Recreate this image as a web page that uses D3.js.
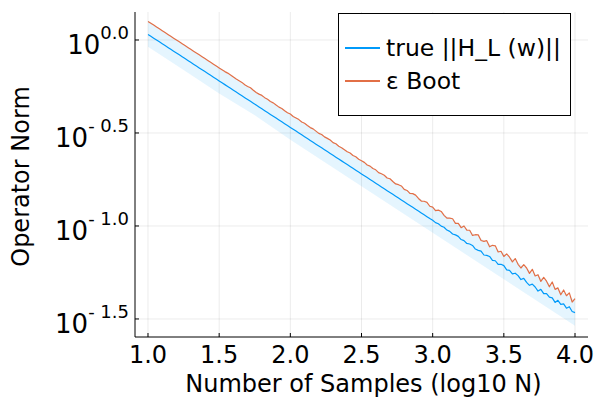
<!DOCTYPE html>
<html>
<head>
<meta charset="utf-8">
<script src="https://cdn.jsdelivr.net/npm/d3@7"></script>
<style>
    body { margin: 0; background: #fff; }
    text { font-family: "DejaVu Sans", sans-serif; fill: #000; }
</style>
</head>
<body>
<div id="SVG_CONTAINER"></div>
<script>
// sample grid, log10 N from 1.0 to 4.0 in steps of 0.02
const sampleX = d3.range(0, 151).map(i => +(1 + i * 0.02).toFixed(2));

// log10 of ||H_L(w)|| (blue line)
const trueNorm = [
    0.030, 0.020, 0.010, 0.000, -0.010, -0.020, -0.030, -0.040, -0.050, -0.060,
    -0.070, -0.080, -0.090, -0.100, -0.110, -0.120, -0.130, -0.140, -0.150, -0.160,
    -0.170, -0.180, -0.190, -0.200, -0.210, -0.220, -0.230, -0.240, -0.250, -0.260,
    -0.270, -0.280, -0.290, -0.300, -0.310, -0.320, -0.330, -0.340, -0.350, -0.360,
    -0.370, -0.380, -0.390, -0.400, -0.410, -0.420, -0.430, -0.440, -0.450, -0.460,
    -0.470, -0.480, -0.490, -0.500, -0.510, -0.520, -0.530, -0.540, -0.550, -0.560,
    -0.570, -0.580, -0.590, -0.600, -0.610, -0.620, -0.630, -0.640, -0.650, -0.660,
    -0.670, -0.680, -0.690, -0.700, -0.710, -0.720, -0.730, -0.740, -0.750, -0.760,
    -0.770, -0.780, -0.790, -0.800, -0.810, -0.820, -0.830, -0.840, -0.850, -0.860,
    -0.870, -0.880, -0.890, -0.900, -0.910, -0.920, -0.930, -0.940, -0.950, -0.960,
    -0.969, -0.982, -0.988, -1.001, -1.007, -1.022, -1.029, -1.043, -1.048, -1.056,
    -1.073, -1.079, -1.094, -1.097, -1.105, -1.124, -1.131, -1.135, -1.156, -1.158,
    -1.164, -1.185, -1.187, -1.207, -1.206, -1.213, -1.236, -1.239, -1.258, -1.254,
    -1.267, -1.288, -1.282, -1.303, -1.319, -1.313, -1.328, -1.350, -1.341, -1.364,
    -1.364, -1.383, -1.387, -1.411, -1.400, -1.422, -1.419, -1.442, -1.434, -1.460,
    -1.466
];

// log10 of the bootstrap estimate (orange line)
const bootNorm = [
    0.100, 0.090, 0.080, 0.070, 0.060, 0.050, 0.040, 0.030, 0.020, 0.010,
    0.000, -0.010, -0.020, -0.030, -0.040, -0.050, -0.060, -0.070, -0.080, -0.090,
    -0.100, -0.110, -0.120, -0.130, -0.140, -0.150, -0.160, -0.170, -0.178, -0.188,
    -0.199, -0.210, -0.219, -0.228, -0.241, -0.250, -0.257, -0.270, -0.282, -0.291,
    -0.298, -0.310, -0.319, -0.331, -0.338, -0.350, -0.361, -0.368, -0.380, -0.391,
    -0.398, -0.411, -0.419, -0.428, -0.441, -0.448, -0.460, -0.471, -0.478, -0.490,
    -0.502, -0.508, -0.521, -0.529, -0.538, -0.552, -0.558, -0.571, -0.579, -0.590,
    -0.601, -0.608, -0.621, -0.628, -0.641, -0.649, -0.658, -0.672, -0.678, -0.691,
    -0.698, -0.713, -0.719, -0.727, -0.742, -0.746, -0.761, -0.774, -0.778, -0.785,
    -0.803, -0.809, -0.825, -0.826, -0.834, -0.852, -0.866, -0.867, -0.873, -0.894,
    -0.899, -0.917, -0.915, -0.922, -0.943, -0.958, -0.958, -0.961, -0.986, -0.986,
    -1.009, -1.000, -1.022, -1.023, -1.051, -1.047, -1.048, -1.078, -1.083, -1.079,
    -1.112, -1.104, -1.107, -1.140, -1.136, -1.164, -1.150, -1.168, -1.193, -1.175,
    -1.206, -1.226, -1.208, -1.226, -1.255, -1.233, -1.269, -1.262, -1.298, -1.276,
    -1.297, -1.327, -1.301, -1.341, -1.333, -1.370, -1.344, -1.375, -1.360, -1.409,
    -1.390
];

// ribbon round the true norm (log10)
const ribbonX  = [1.0, 1.25, 1.5, 1.75, 2.0, 2.25, 2.5, 2.75, 3.0, 3.25, 3.5, 3.75, 4.0];
const ribbonLo = [-0.036, -0.161, -0.288, -0.405, -0.536, -0.661, -0.786, -0.911, -1.036, -1.161, -1.286, -1.411, -1.536];
const ribbonHi = [0.104, -0.023, -0.148, -0.273, -0.398, -0.523, -0.648, -0.773, -0.898, -1.023, -1.148, -1.273, -1.398];

const xTicks = [1.0, 1.5, 2.0, 2.5, 3.0, 3.5, 4.0];
const yTickExp = [0, -0.5, -1.0, -1.5];
const yTickSup = ["0.0", "- 0.5", "- 1.0", "- 1.5"];
const seriesNames = ["true ||H_L (w)||", "ε Boot"];
const seriesColors = ["#009AFA", "#E26F46"];

const width = 600, height = 400;
const PLOT = { LEFT: 135, RIGHT: 588, TOP: 12, BOTTOM: 337 };

window.onload = function () {
    const svg = d3.select("#SVG_CONTAINER")
        .append("svg")
        .attr("width", width)
        .attr("height", height);

    const x = d3.scaleLinear()
        .domain([0.9087, 4.0913])
        .range([PLOT.LEFT, PLOT.RIGHT]);

    const y = d3.scaleLog()
        .domain([Math.pow(10, -1.597), Math.pow(10, 0.1505)])
        .range([PLOT.BOTTOM, PLOT.TOP]);

    // grid
    svg.append("g").selectAll("line.vgrid")
        .data(xTicks).enter().append("line")
        .attr("x1", d => x(d)).attr("x2", d => x(d))
        .attr("y1", PLOT.TOP).attr("y2", PLOT.BOTTOM)
        .attr("stroke", "#000").attr("stroke-opacity", 0.08).attr("stroke-width", 1);
    svg.append("g").selectAll("line.hgrid")
        .data(yTickExp).enter().append("line")
        .attr("x1", PLOT.LEFT).attr("x2", PLOT.RIGHT)
        .attr("y1", d => y(Math.pow(10, d))).attr("y2", d => y(Math.pow(10, d)))
        .attr("stroke", "#000").attr("stroke-opacity", 0.08).attr("stroke-width", 1);

    // ribbon
    const ribbon = ribbonX.map((v, i) => [v, ribbonLo[i], ribbonHi[i]]);
    svg.append("path")
        .datum(ribbon)
        .attr("fill", seriesColors[0])
        .attr("fill-opacity", 0.1)
        .attr("d", d3.area()
            .x(d => x(d[0]))
            .y0(d => y(Math.pow(10, d[1])))
            .y1(d => y(Math.pow(10, d[2]))));

    // lines
    const line = d3.line()
        .x(d => x(d[0]))
        .y(d => y(Math.pow(10, d[1])));
    [trueNorm, bootNorm].forEach(function (series, k) {
        svg.append("path")
            .datum(sampleX.map((v, i) => [v, series[i]]))
            .attr("fill", "none")
            .attr("stroke", seriesColors[k])
            .attr("stroke-width", 1.2)
            .attr("stroke-linejoin", "round")
            .attr("d", line);
    });

    // axes (left and bottom only)
    svg.append("line")
        .attr("x1", PLOT.LEFT).attr("x2", PLOT.LEFT)
        .attr("y1", PLOT.TOP).attr("y2", PLOT.BOTTOM)
        .attr("stroke", "#000").attr("stroke-width", 1);
    svg.append("line")
        .attr("x1", PLOT.LEFT).attr("x2", PLOT.RIGHT)
        .attr("y1", PLOT.BOTTOM).attr("y2", PLOT.BOTTOM)
        .attr("stroke", "#000").attr("stroke-width", 1);

    // x ticks
    svg.append("g").selectAll("line")
        .data(xTicks).enter().append("line")
        .attr("x1", d => x(d)).attr("x2", d => x(d))
        .attr("y1", PLOT.BOTTOM).attr("y2", PLOT.BOTTOM - 4)
        .attr("stroke", "#000");
    svg.append("g").selectAll("text")
        .data(xTicks).enter().append("text")
        .attr("x", d => x(d))
        .attr("y", 363)
        .attr("text-anchor", "middle")
        .style("font-size", "24px")
        .text(d => d.toFixed(1));

    // y ticks
    svg.append("g").selectAll("line")
        .data(yTickExp).enter().append("line")
        .attr("x1", PLOT.LEFT).attr("x2", PLOT.LEFT + 4)
        .attr("y1", d => y(Math.pow(10, d))).attr("y2", d => y(Math.pow(10, d)))
        .attr("stroke", "#000");
    const yLab = svg.append("g").selectAll("text")
        .data(yTickExp).enter().append("text")
        .attr("x", 129)
        .attr("y", d => y(Math.pow(10, d)) + 14)
        .attr("text-anchor", "end");
    yLab.append("tspan").style("font-size", "26px").text("10");
    yLab.append("tspan").style("font-size", "18px").attr("dy", -15)
        .text((d, i) => yTickSup[i]);

    // axis labels
    svg.append("text")
        .attr("x", (PLOT.LEFT + PLOT.RIGHT) / 2 + 2)
        .attr("y", 392)
        .attr("text-anchor", "middle")
        .style("font-size", "24px")
        .text("Number of Samples (log10 N)");
    svg.append("text")
        .attr("transform", "translate(29," + ((PLOT.TOP + PLOT.BOTTOM) / 2 + 2) + ") rotate(-90)")
        .attr("text-anchor", "middle")
        .style("font-size", "24px")
        .text("Operator Norm");

    // legend
    svg.append("rect")
        .attr("x", 338.5).attr("y", 13.5)
        .attr("width", 232).attr("height", 102)
        .attr("fill", "#fff").attr("stroke", "#000").attr("stroke-width", 1);
    let yLegend = 48;
    for (let i = 0; i < seriesNames.length; i++) {
        svg.append("line")
            .attr("x1", 345).attr("x2", 380)
            .attr("y1", yLegend).attr("y2", yLegend)
            .attr("stroke", seriesColors[i]).attr("stroke-width", 2);
        svg.append("text")
            .attr("x", 386)
            .attr("y", yLegend)
            .attr("dy", "0.36em")
            .style("font-size", "23.5px")
            .text(seriesNames[i]);
        yLegend += 33;
    }
};
</script>
</body>
</html>
